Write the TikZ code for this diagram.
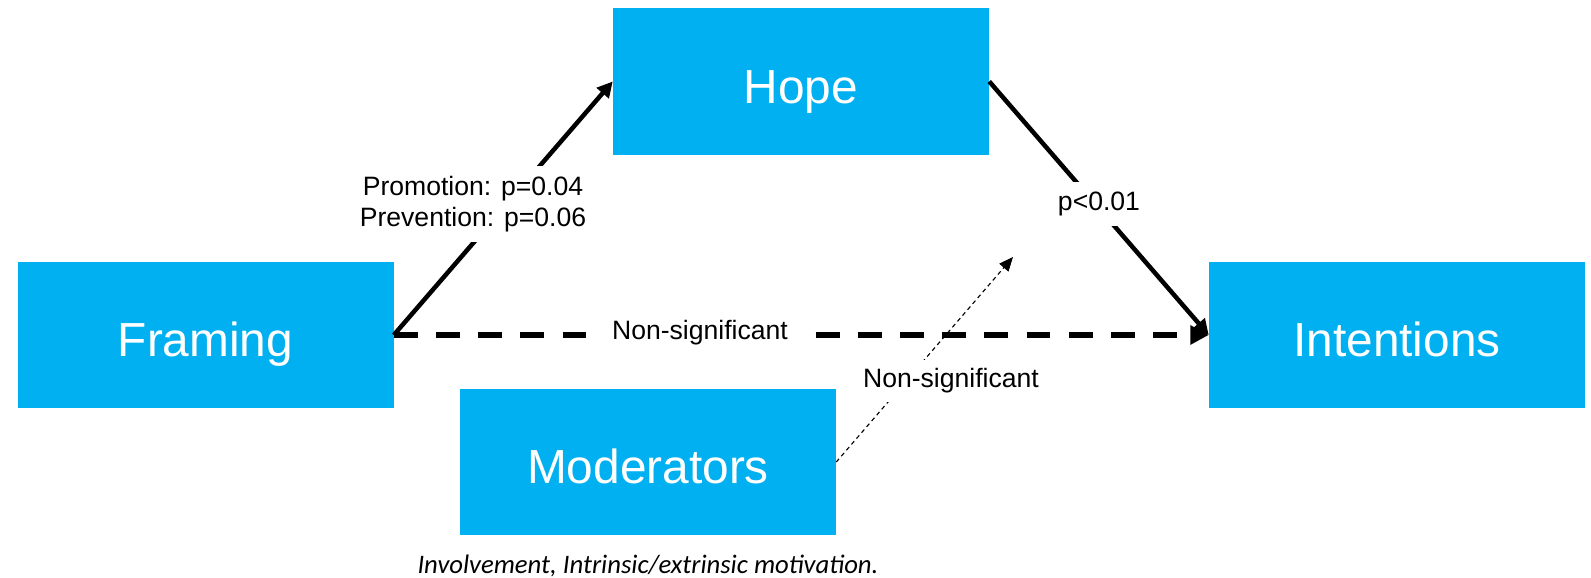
\documentclass[tikz,border=0pt]{standalone}
\usepackage{fontspec}
\setmainfont{Liberation Sans}
\newfontfamily\notefont{Carlito}
\usetikzlibrary{arrows.meta}
\definecolor{boxblue}{HTML}{00B0F0}
\tikzset{
  blockbox/.style={fill=boxblue, minimum width=376*0.025cm, minimum height=146*0.025cm,
    inner sep=0pt, text=white, text height=30.9pt, text depth=0pt,
    font=\fontsize{34}{40}\selectfont},
  lbl/.style={fill=white, inner xsep=6pt, inner ysep=7pt, align=center,
    font=\fontsize{18.9}{22.5}\selectfont},
  strong/.style={line width=3.2pt, -{Triangle[length=11pt,width=11pt]}},
  nonsig/.style={line width=3.6pt, dash pattern=on 17pt off 13pt,
    -{Triangle[length=13pt,width=13pt]}},
  faint/.style={line width=0.8pt, dash pattern=on 3pt off 2.5pt,
    -{Triangle[length=10pt,width=8.5pt]}}
}
\begin{document}
\begin{tikzpicture}[x=0.025cm, y=-0.025cm]
  \useasboundingbox (0,0) rectangle (1591,578);
  % blocks
  \node[blockbox] (hope) at (801,81.5) {Hope};
  \node[blockbox] (framing) at (205.5,335) {Framing};
  \node[blockbox] (intent) at (1397,335) {Intentions};
  \node[blockbox] (moder) at (648,462) {Moderators};
  \coordinate (modtip) at (1013,257);
  % paths
  \draw[strong] (framing.east) -- (hope.west);
  \draw[strong] (hope.east) -- (intent.west);
  \draw[nonsig] (framing.east) -- (intent.west);
  \draw[faint] (moder.east) -- (modtip);
  % path labels
  \node[lbl] (lpromo) at (473,204) {Promotion: p=0.04\\Prevention: p=0.06};
  \node[lbl] (lhope) at (1099,204) {p<0.01};
  \node[lbl, inner xsep=14pt, inner ysep=4pt] (ldirect) at (700,333) {Non-significant};
  \node[lbl, inner ysep=6pt] (lmod) at (951,381) {Non-significant};
  % moderator list
  \node[font=\notefont\itshape\fontsize{19}{23}\selectfont] (modlist) at (648,566)
    {Involvement, Intrinsic/extrinsic motivation.};
\end{tikzpicture}
\end{document}
